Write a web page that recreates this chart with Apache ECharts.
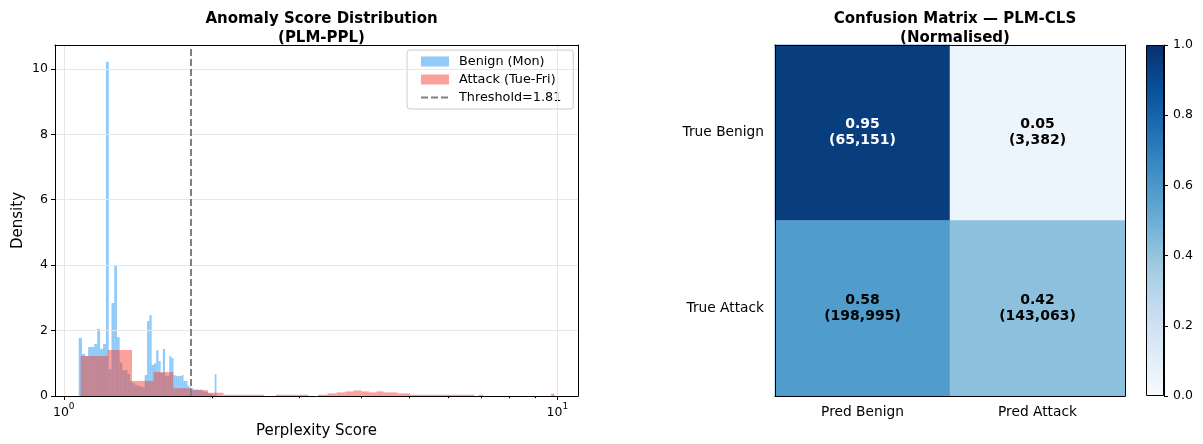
<!DOCTYPE html>
<html>
<head>
<meta charset="utf-8">
<script src="https://cdn.jsdelivr.net/npm/echarts@6/dist/echarts.min.js"></script>
<style>
  html, body { margin: 0; padding: 0; background: #fff; }
  #chart { width: 1203px; height: 444px; }
</style>
</head>
<body>
<div id="chart"></div>
<script>
// ---- Histogram data: 60 equal-width bins per class, density-normalised ----
const BENIGN_MIN = 1.0724;
const BENIGN_BIN_WIDTH = 0.0161;
const BENIGN_DENSITY = [
  1.77, 1.28, 1.22, 1.50, 1.50, 1.59, 2.05, 1.44, 1.59, 10.22,
  0.82, 2.84, 3.99, 1.80, 1.02, 0.79, 0.79, 0.67, 0.45, 0.39,
  0.34, 0.31, 0.29, 0.26, 0.64, 2.29, 2.47, 0.95, 1.00, 1.40,
  1.07, 0.70, 1.44, 0.62, 0.62, 1.22, 1.16, 0.64, 0.61, 0.61,
  0.61, 0.64, 0.46, 0.46, 0.31, 0.26, 0.24, 0.20, 0.20, 0.20,
  0.18, 0.20, 0.14, 0.14, 0.12, 0.08, 0.08, 0.06, 0.03, 0.67
];

const ATTACK_MIN = 1.082;
const ATTACK_BIN_WIDTH = 0.1463;
const ATTACK_DENSITY = [
  1.22, 1.41, 0.46, 0.73, 0.24, 0.18, 0.10, 0.04, 0.04, 0.04,
  0.00, 0.04, 0.04, 0.04, 0.00, 0.04, 0.08, 0.11, 0.14, 0.17,
  0.14, 0.11, 0.14, 0.11, 0.11, 0.08, 0.08, 0.04, 0.04, 0.04,
  0.04, 0.04, 0.04, 0.04, 0.04, 0.04, 0.04, 0.04, 0.04, 0.00,
  0.04, 0.00, 0.00, 0.00, 0.00, 0.00, 0.00, 0.00, 0.00, 0.00,
  0.00, 0.00, 0.00, 0.00, 0.00, 0.00, 0.00, 0.00, 0.00, 0.07
];

const THRESHOLD = 1.81;
const X_MAJOR_TICKS = [1, 10];
const X_MINOR_TICKS = [2, 3, 4, 5, 6, 7, 8, 9];
const Y_TICKS = [0, 2, 4, 6, 8, 10];

// ---- Confusion matrix (rows: true class, columns: predicted class) ----
const TRUE_LABELS = ['True Benign', 'True Attack'];
const PRED_LABELS = ['Pred Benign', 'Pred Attack'];
const CONFUSION_COUNTS = [
  [65151, 3382],
  [198995, 143063]
];
const COLORBAR_TICKS = [0, 0.2, 0.4, 0.6, 0.8, 1.0];

// Matplotlib "Blues" colormap stops
const BLUES = ['#f7fbff', '#deebf7', '#c6dbef', '#9ecae1', '#6baed6',
               '#4292c6', '#2171b5', '#08519c', '#08306b'];

const FONT = 'DejaVu Sans';
const BENIGN_COLOR = 'rgba(33,150,243,0.5)';
const ATTACK_COLOR = 'rgba(244,67,54,0.5)';
const GRID_COLOR = '#e6e6e6';

// Legend keys: a 28x10 patch / three dashes, padded on the right so the
// label sits a little further from the key. The tiny corner squares only
// fix the icon's bounding box.
const PATCH_ICON = 'path://M0,0h0.01v0.01h-0.01z M0,0h28v10h-28z M32.99,9.99h0.01v0.01h-0.01z';
const DASH_ICON = 'path://M0,0h0.01v0.01h-0.01z M0,4h7v2h-7z M10,4h7v2h-7z M20,4h7v2h-7z M32.99,9.99h0.01v0.01h-0.01z';

function binRows(min, width, dens) {
  return dens.map((d, i) => [min + i * width, min + (i + 1) * width, d]);
}

function histRender(color) {
  return function (params, api) {
    const p0 = api.coord([api.value(0), api.value(2)]);
    const p1 = api.coord([api.value(1), 0]);
    return {
      type: 'rect',
      shape: { x: p0[0], y: p0[1], width: p1[0] - p0[0], height: p1[1] - p0[1] },
      style: { fill: color }
    };
  };
}

// Row-normalised rates
const rates = CONFUSION_COUNTS.map(row => {
  const s = row.reduce((a, b) => a + b, 0);
  return row.map(v => v / s);
});
const heatData = [];
rates.forEach((row, r) => {
  row.forEach((v, c) => {
    heatData.push({
      value: [c, r, v],
      count: CONFUSION_COUNTS[r][c],
      label: { color: v > 0.6 ? '#ffffff' : '#000000' }
    });
  });
});

const X_MIN = 0.96, X_MAX = 11.01, Y_MAX = 10.73;

const chart = echarts.init(document.getElementById('chart'), null, { renderer: 'canvas' });

const option = {
  animation: false,
  backgroundColor: '#ffffff',
  textStyle: { fontFamily: FONT },
  title: [
    {
      text: 'Anomaly Score Distribution\n(PLM-PPL)',
      left: 316.5, top: 4, textAlign: 'center',
      textStyle: { fontFamily: FONT, fontSize: 15, fontWeight: 'bold', color: '#000', lineHeight: 19.5 }
    },
    {
      text: 'Confusion Matrix — PLM-CLS\n(Normalised)',
      left: 950, top: 4, textAlign: 'center',
      textStyle: { fontFamily: FONT, fontSize: 15, fontWeight: 'bold', color: '#000', lineHeight: 19.5 }
    }
  ],
  legend: {
    left: 407, top: 50,
    orient: 'vertical',
    itemWidth: 33, itemHeight: 10, itemGap: 5,
    padding: [5, 12, 5, 14],
    borderColor: '#cccccc', borderWidth: 1, borderRadius: 3,
    backgroundColor: 'rgba(255,255,255,0.8)',
    textStyle: { fontFamily: FONT, fontSize: 12.8, color: '#000' },
    data: [
      { name: 'Benign (Mon)', icon: PATCH_ICON },
      { name: 'Attack (Tue-Fri)', icon: PATCH_ICON },
      { name: 'Threshold=1.81', icon: DASH_ICON }
    ]
  },
  grid: [
    { left: 55, top: 45, width: 523, height: 351 },
    { left: 55, top: 45, width: 523, height: 351 },
    { left: 775, top: 45, width: 350, height: 351 },
    { left: 1146, top: 45, width: 18, height: 351 }
  ],
  xAxis: [
    {
      gridIndex: 0, type: 'log', logBase: 10, min: X_MIN, max: X_MAX, position: 'bottom', z: 5,
      name: 'Perplexity Score', nameLocation: 'middle', nameGap: 27,
      nameTextStyle: { fontFamily: FONT, fontSize: 15, color: '#000' },
      axisLine: { lineStyle: { color: '#000', width: 1 } },
      axisTick: { customValues: X_MAJOR_TICKS, length: 4, lineStyle: { color: '#000' } },
      axisLabel: {
        customValues: X_MAJOR_TICKS, margin: 6,
        formatter: v => '{b|10}{s|' + Math.round(Math.log10(v)) + '}',
        rich: {
          b: { fontFamily: FONT, fontSize: 12.5, color: '#000', lineHeight: 17, verticalAlign: 'bottom' },
          s: { fontFamily: FONT, fontSize: 9, color: '#000', verticalAlign: 'top', lineHeight: 10 }
        }
      },
      splitLine: { show: true, lineStyle: { color: GRID_COLOR, width: 1 } }
    },
    {
      gridIndex: 0, type: 'log', logBase: 10, min: X_MIN, max: X_MAX, position: 'top', z: 5,
      axisLine: { show: true, onZero: false, lineStyle: { color: '#000', width: 1 } },
      axisTick: { show: false }, axisLabel: { show: false }, splitLine: { show: false }
    },
    {
      gridIndex: 1, type: 'log', logBase: 10, min: X_MIN, max: X_MAX, position: 'bottom', z: 5,
      axisLine: { show: false },
      axisTick: { show: true, customValues: X_MINOR_TICKS, length: 2.2, lineStyle: { color: '#000' } },
      axisLabel: { show: false }, splitLine: { show: false }
    },
    {
      gridIndex: 2, type: 'category', data: PRED_LABELS, position: 'bottom', z: 5,
      axisLine: { lineStyle: { color: '#000', width: 1 } },
      axisTick: { alignWithLabel: true, length: 4, lineStyle: { color: '#000' } },
      axisLabel: { fontFamily: FONT, fontSize: 13.75, color: '#000', margin: 9 },
      splitLine: { show: false }
    },
    {
      gridIndex: 2, type: 'category', data: PRED_LABELS, position: 'top', z: 5,
      axisLine: { show: true, lineStyle: { color: '#000', width: 1 } },
      axisTick: { show: false }, axisLabel: { show: false }
    },
    {
      gridIndex: 3, type: 'category', data: [''], show: false
    }
  ],
  yAxis: [
    {
      gridIndex: 0, type: 'value', min: 0, max: Y_MAX, position: 'left', z: 5,
      name: 'Density', nameLocation: 'middle', nameGap: 29,
      nameTextStyle: { fontFamily: FONT, fontSize: 15, color: '#000' },
      axisLine: { show: true, lineStyle: { color: '#000', width: 1 } },
      axisTick: { show: true, customValues: Y_TICKS, length: 4, lineStyle: { color: '#000' } },
      axisLabel: { customValues: Y_TICKS, fontFamily: FONT, fontSize: 12.5, color: '#000', margin: 7 },
      splitLine: { show: true, lineStyle: { color: GRID_COLOR, width: 1 } }
    },
    {
      gridIndex: 0, type: 'value', min: 0, max: Y_MAX, position: 'right', z: 5,
      axisLine: { show: true, onZero: false, lineStyle: { color: '#000', width: 1 } },
      axisTick: { show: false }, axisLabel: { show: false }, splitLine: { show: false }
    },
    {
      gridIndex: 1, type: 'value', min: 0, max: Y_MAX, show: false
    },
    {
      gridIndex: 2, type: 'category', data: TRUE_LABELS, inverse: true, position: 'left', z: 5,
      axisLine: { lineStyle: { color: '#000', width: 1 } },
      axisTick: { alignWithLabel: true, length: 5, lineStyle: { color: '#000' } },
      axisLabel: { fontFamily: FONT, fontSize: 13.75, color: '#000', margin: 11 },
      splitLine: { show: false }
    },
    {
      gridIndex: 2, type: 'category', data: TRUE_LABELS, inverse: true, position: 'right', z: 5,
      axisLine: { show: true, lineStyle: { color: '#000', width: 1 } },
      axisTick: { show: false }, axisLabel: { show: false }
    },
    {
      gridIndex: 3, type: 'value', min: 0, max: 1, position: 'right', z: 5,
      axisLine: { show: true, lineStyle: { color: '#000', width: 1 } },
      axisTick: { show: true, customValues: COLORBAR_TICKS, length: 4, lineStyle: { color: '#000' } },
      axisLabel: {
        customValues: COLORBAR_TICKS, fontFamily: FONT, fontSize: 12.5, color: '#000', margin: 9,
        formatter: v => v.toFixed(1)
      },
      splitLine: { show: false }
    }
  ],
  visualMap: [
    {
      show: false, type: 'continuous', min: 0, max: 1, seriesIndex: 3, dimension: 2,
      inRange: { color: BLUES }
    }
  ],
  series: [
    {
      name: 'Benign (Mon)', type: 'custom', xAxisIndex: 0, yAxisIndex: 0,
      renderItem: histRender(BENIGN_COLOR),
      itemStyle: { color: BENIGN_COLOR },
      encode: { x: [0, 1], y: 2 },
      data: binRows(BENIGN_MIN, BENIGN_BIN_WIDTH, BENIGN_DENSITY),
      z: 2
    },
    {
      name: 'Attack (Tue-Fri)', type: 'custom', xAxisIndex: 0, yAxisIndex: 0,
      renderItem: histRender(ATTACK_COLOR),
      itemStyle: { color: ATTACK_COLOR },
      encode: { x: [0, 1], y: 2 },
      data: binRows(ATTACK_MIN, ATTACK_BIN_WIDTH, ATTACK_DENSITY),
      z: 3
    },
    {
      name: 'Threshold=1.81', type: 'line', xAxisIndex: 0, yAxisIndex: 0,
      data: [], symbol: 'none',
      itemStyle: { color: '#808080' },
      lineStyle: { color: '#808080', width: 2, type: [6, 3] },
      markLine: {
        silent: true, symbol: ['none', 'none'],
        label: { show: false },
        lineStyle: { color: '#808080', width: 2, type: [7, 3] },
        data: [{ xAxis: THRESHOLD }]
      },
      z: 4
    },
    {
      name: 'confusion', type: 'heatmap', xAxisIndex: 3, yAxisIndex: 3,
      data: heatData,
      label: {
        show: true, fontFamily: FONT, fontSize: 14, fontWeight: 'bold', lineHeight: 16,
        formatter: p => p.value[2].toFixed(2) + '\n(' + p.data.count.toLocaleString('en-US') + ')'
      },
      emphasis: { disabled: true },
      z: 2
    },
    {
      name: 'colorbar', type: 'bar', xAxisIndex: 5, yAxisIndex: 5,
      data: [1], barWidth: '100%', silent: true,
      itemStyle: {
        color: new echarts.graphic.LinearGradient(0, 1, 0, 0,
          BLUES.map((c, i) => ({ offset: i / (BLUES.length - 1), color: c }))),
        borderColor: '#000', borderWidth: 1
      }
    }
  ]
};

chart.setOption(option);
</script>
</body>
</html>
